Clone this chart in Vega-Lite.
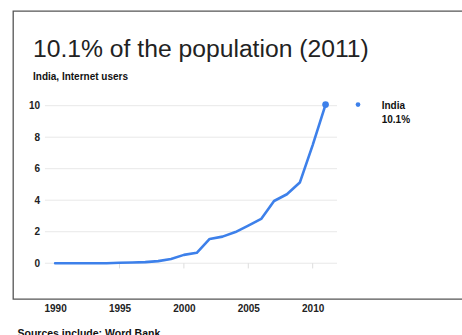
{
  "$schema": "https://vega.github.io/schema/vega-lite/v6.json",
  "width": 455,
  "height": 288,
  "autosize": {"type": "none"},
  "padding": {"left": 13, "top": 11, "right": 0, "bottom": 36},
  "background": "white",
  "title": {
    "text": "10.1% of the population (2011)",
    "subtitle": "India, Internet users",
    "anchor": "start",
    "frame": "group",
    "orient": "top",
    "dx": 20,
    "offset": -71,
    "font": "Liberation Sans",
    "fontSize": 24.7,
    "fontWeight": "normal",
    "color": "#222222",
    "subtitleFont": "Liberation Sans",
    "subtitleFontSize": 10,
    "subtitleFontWeight": "bold",
    "subtitleColor": "#111111",
    "subtitlePadding": 10
  },
  "config": {
    "view": {"stroke": "#555555", "strokeWidth": 1.3}
  },
  "data": {
    "values": [
      {"country": "India", "year": 1990, "users": 0},
      {"country": "India", "year": 1991, "users": 0},
      {"country": "India", "year": 1992, "users": 0.001},
      {"country": "India", "year": 1993, "users": 0.001},
      {"country": "India", "year": 1994, "users": 0.001},
      {"country": "India", "year": 1995, "users": 0.027},
      {"country": "India", "year": 1996, "users": 0.047},
      {"country": "India", "year": 1997, "users": 0.073},
      {"country": "India", "year": 1998, "users": 0.136},
      {"country": "India", "year": 1999, "users": 0.27},
      {"country": "India", "year": 2000, "users": 0.53},
      {"country": "India", "year": 2001, "users": 0.66},
      {"country": "India", "year": 2002, "users": 1.54},
      {"country": "India", "year": 2003, "users": 1.69},
      {"country": "India", "year": 2004, "users": 1.98},
      {"country": "India", "year": 2005, "users": 2.39},
      {"country": "India", "year": 2006, "users": 2.81},
      {"country": "India", "year": 2007, "users": 3.95},
      {"country": "India", "year": 2008, "users": 4.38},
      {"country": "India", "year": 2009, "users": 5.12},
      {"country": "India", "year": 2010, "users": 7.5},
      {"country": "India", "year": 2011, "users": 10.07}
    ]
  },
  "layer": [
    {
      "mark": {"type": "line", "color": "#3d80ea", "strokeWidth": 2.6, "opacity": 0},
      "encoding": {
        "x": {
          "field": "year",
          "type": "quantitative",
          "scale": {"domain": [1986.73, 2022.06], "nice": false, "zero": false},
          "axis": {
            "values": [1990, 1995, 2000, 2005, 2010],
            "format": "d",
            "ticks": false,
            "domain": false,
            "grid": false,
            "labelPadding": 4,
            "labelFont": "Liberation Sans",
            "labelFontWeight": "bold",
            "labelFontSize": 10,
            "labelColor": "#222222",
            "title": "Sources include: Word Bank",
            "titleAnchor": "start",
            "titleAlign": "left",
            "titleBaseline": "top",
            "titleX": 4,
            "titleY": 29.5,
            "titleFont": "Liberation Sans",
            "titleFontWeight": "bold",
            "titleFontSize": 10.5,
            "titleColor": "#111111"
          }
        },
        "y": {
          "field": "users",
          "type": "quantitative",
          "scale": {"domain": [-2.27, 16.01], "nice": false, "zero": false},
          "axis": {
            "values": [0, 2, 4, 6, 8, 10],
            "offset": -26.5,
            "ticks": false,
            "domain": false,
            "grid": false,
            "labelPadding": 0,
            "labelFont": "Liberation Sans",
            "labelFontWeight": "bold",
            "labelFontSize": 10,
            "labelColor": "#222222",
            "title": null
          }
        }
      }
    },
    {
      "data": {"values": [{"g": 0}, {"g": 2}, {"g": 4}, {"g": 6}, {"g": 8}, {"g": 10}]},
      "mark": {"type": "rule", "color": "#e8e8e8", "strokeWidth": 1},
      "encoding": {
        "y": {"field": "g", "type": "quantitative"},
        "x": {"datum": 1989.21, "type": "quantitative"},
        "x2": {"datum": 2011.89}
      }
    },
    {
      "data": {"values": [{"t": 1995}, {"t": 2000}, {"t": 2005}, {"t": 2010}]},
      "mark": {"type": "rule", "color": "#dddddd", "strokeWidth": 1},
      "encoding": {
        "x": {"field": "t", "type": "quantitative"},
        "y": {"datum": 0},
        "y2": {"datum": -0.33}
      }
    },
    {
      "mark": {"type": "line", "color": "#3d80ea", "strokeWidth": 2.6, "strokeJoin": "round", "strokeCap": "round"},
      "encoding": {
        "x": {"field": "year", "type": "quantitative"},
        "y": {"field": "users", "type": "quantitative"}
      }
    },
    {
      "transform": [{"filter": "datum.year == 2011"}],
      "mark": {"type": "circle", "color": "#3d80ea", "size": 45, "opacity": 1},
      "encoding": {
        "x": {"field": "year", "type": "quantitative"},
        "y": {"field": "users", "type": "quantitative"}
      }
    },
    {
      "transform": [{"filter": "datum.year == 2011"}],
      "mark": {"type": "circle", "color": "#3d80ea", "size": 22, "opacity": 1},
      "encoding": {
        "x": {"datum": 2013.52},
        "y": {"field": "users", "type": "quantitative"}
      }
    },
    {
      "transform": [{"filter": "datum.year == 2011"}],
      "mark": {"type": "text", "align": "left", "baseline": "alphabetic", "dy": 4.7, "font": "Liberation Sans", "fontWeight": "bold", "fontSize": 10, "color": "#111111"},
      "encoding": {
        "x": {"datum": 2015.36},
        "y": {"field": "users", "type": "quantitative"},
        "text": {"field": "country"}
      }
    },
    {
      "transform": [{"filter": "datum.year == 2011"}],
      "mark": {"type": "text", "align": "left", "baseline": "alphabetic", "dy": 18.7, "font": "Liberation Sans", "fontWeight": "bold", "fontSize": 10, "color": "#111111", "text": {"expr": "format(datum.users, '.1f') + '%'"}},
      "encoding": {
        "x": {"datum": 2015.36},
        "y": {"field": "users", "type": "quantitative"}
      }
    }
  ]
}
